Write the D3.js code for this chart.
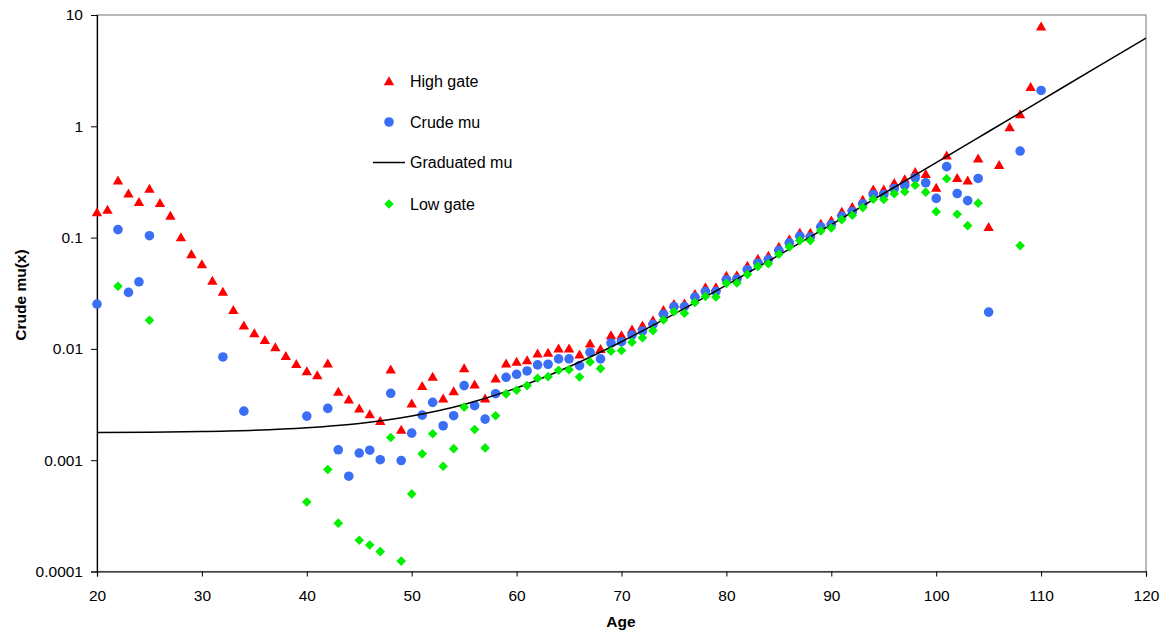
<!DOCTYPE html>
<html>
<head>
<meta charset="utf-8">
<script src="https://cdn.jsdelivr.net/npm/d3@7"></script>
<style>
  html, body { margin: 0; padding: 0; background: #fff; }
  svg { display: block; font-family: "Liberation Sans", Arial, sans-serif; }
</style>
</head>
<body>
<svg id="chart" width="1169" height="638"></svg>
<script>
// Ages observed, 20 to 110
const ages = d3.range(20, 111);

// Upper gate of the crude rate (null where not plotted)
const highGate = [
  0.17, 0.179, 0.328, 0.25, 0.21, 0.276, 0.205, 0.158, 0.101, 0.0713,
  0.058, 0.0412, 0.0328, 0.0225, 0.0163, 0.0139, 0.0121, 0.0104, 0.00865, 0.00733,
  0.00634, 0.00583, 0.00743, 0.00413, 0.00352, 0.00292, 0.0026, 0.00226, 0.00656, 0.00189,
  0.00324, 0.00467, 0.00563, 0.0036, 0.00418, 0.00674, 0.00481, 0.0036, 0.00545, 0.00743,
  0.00769, 0.00796, 0.00914, 0.00927, 0.0101, 0.0101, 0.00896, 0.0112, 0.0100, 0.0133,
  0.0133, 0.0150, 0.0163, 0.0182, 0.0225, 0.0254, 0.0257, 0.0313, 0.0360, 0.0360,
  0.0455, 0.0462, 0.0560, 0.0647, 0.0689, 0.0830, 0.0969, 0.111, 0.111, 0.134,
  0.143, 0.171, 0.189, 0.220, 0.271, 0.271, 0.311, 0.336, 0.391, 0.375,
  0.282, 0.548, 0.345, 0.328, 0.515, 0.125, 0.452, 0.986, 1.29, 2.26,
  7.91
];

// Crude central death rate mu(x)
const crudeMu = [
  0.0253, null, 0.118, 0.0322, 0.0401, 0.104, null, null, null, null,
  null, null, 0.00847, null, 0.00276, null, null, null, null, null,
  0.00249, null, 0.00292, 0.00124, 0.000718, 0.00116, 0.00123, 0.00101, 0.00399, 0.000993,
  0.00175, 0.00254, 0.00331, 0.00204, 0.00251, 0.00468, 0.00309, 0.00234, 0.00396, 0.00556,
  0.00591, 0.00634, 0.00718, 0.00728, 0.00813, 0.00813, 0.00708, 0.00933, 0.00813, 0.0113,
  0.0116, 0.0133, 0.0145, 0.0166, 0.0205, 0.0240, 0.0240, 0.0292, 0.0328, 0.0328,
  0.0418, 0.0425, 0.0515, 0.0592, 0.0634, 0.0769, 0.0896, 0.103, 0.101, 0.125,
  0.131, 0.156, 0.171, 0.201, 0.244, 0.244, 0.276, 0.294, 0.345, 0.311,
  0.225, 0.434, 0.249, 0.215, 0.340, 0.0214, null, null, 0.599, null,
  2.10
];

// Lower gate of the crude rate
const lowGate = [
  null, null, 0.0365, null, null, 0.0181, null, null, null, null,
  null, null, null, null, null, null, null, null, null, null,
  0.000421, null, 0.000824, 0.000272, null, 0.000191, 0.000173, 0.000151, 0.00160, 0.000124,
  0.000498, 0.00114, 0.00173, 0.000883, 0.00127, 0.00300, 0.00189, 0.00129, 0.00251, 0.00394,
  0.00425, 0.00468, 0.00545, 0.00563, 0.00643, 0.00651, 0.00560, 0.00764, 0.00665, 0.00953,
  0.00966, 0.0115, 0.0126, 0.0146, 0.0182, 0.0216, 0.0209, 0.0261, 0.0296, 0.0293,
  0.0388, 0.0391, 0.0467, 0.0551, 0.0583, 0.0708, 0.0825, 0.0940, 0.0940, 0.115,
  0.122, 0.145, 0.159, 0.186, 0.221, 0.220, 0.248, 0.258, 0.296, 0.256,
  0.171, 0.338, 0.162, 0.128, 0.204, null, null, null, 0.0847, null,
  null
];

// Graduated rate, every five years of age
const gradAges = [20, 25, 30, 35, 40, 45, 50, 55, 60, 65, 70, 75, 80, 85, 90, 95, 100, 105, 110, 115, 120];
const gradMu = [0.00177, 0.00178, 0.00181, 0.00186, 0.00196, 0.00214, 0.00250, 0.00317, 0.00446, 0.00691,
  0.0116, 0.0205, 0.0374, 0.0697, 0.131, 0.249, 0.472, 0.898, 1.71, 3.26, 6.2];

// Axis ticks
const xTicks = [20, 30, 40, 50, 60, 70, 80, 90, 100, 110, 120];
const yTicks = [0.0001, 0.001, 0.01, 0.1, 1, 10];
const yTickLabels = ["0.0001", "0.001", "0.01", "0.1", "1", "10"];

const seriesNames = ["High gate", "Crude mu", "Graduated mu", "Low gate"];

const svg = d3.select("#chart");
const plot = { left: 97, right: 1146, top: 15, bottom: 571.5 };

const x = d3.scaleLinear().domain([20, 120]).range([plot.left, plot.right]);
const y = d3.scaleLog().domain([0.0001, 10]).range([plot.bottom, plot.top]);

// plot-area frame
svg.append("rect")
  .attr("x", plot.left).attr("y", plot.top)
  .attr("width", plot.right - plot.left).attr("height", plot.bottom - plot.top)
  .attr("fill", "none").attr("stroke", "#8c8c8c").attr("stroke-width", 1.2);

// x axis
const xAxis = svg.append("g")
  .attr("transform", `translate(0,${plot.bottom})`)
  .call(d3.axisBottom(x).tickValues(xTicks).tickSize(5).tickPadding(13).tickFormat(d3.format("d")));
xAxis.select(".domain").attr("stroke", "#000").attr("stroke-width", 1.2);
xAxis.selectAll(".tick line").attr("stroke", "#000");
xAxis.selectAll("text").attr("font-size", "15.5px").attr("fill", "#000").attr("font-family", null);

// y axis
const yAxis = svg.append("g")
  .attr("transform", `translate(${plot.left},0)`)
  .call(d3.axisLeft(y).tickValues(yTicks).tickSize(6).tickPadding(8)
    .tickFormat((d, i) => yTickLabels[i]));
yAxis.select(".domain").attr("stroke", "#000").attr("stroke-width", 1.2);
yAxis.selectAll(".tick line").attr("stroke", "#000");
yAxis.selectAll("text").attr("font-size", "15.5px").attr("fill", "#000").attr("font-family", null);

// axis titles
svg.append("text")
  .attr("x", 621).attr("y", 627)
  .attr("text-anchor", "middle")
  .attr("font-size", "15.5px").attr("font-weight", "bold")
  .text("Age");
svg.append("text")
  .attr("transform", "translate(26,295) rotate(-90)")
  .attr("text-anchor", "middle")
  .attr("font-size", "15.5px").attr("font-weight", "bold")
  .text("Crude mu(x)");

// marker shapes
const triPath = "M0,-4.8L5.2,4.2L-5.2,4.2Z";
const diaPath = "M0,-4.8L4.8,0L0,4.8L-4.8,0Z";
const colors = { high: "#ff0000", crude: "#3a6ff5", grad: "#000000", low: "#00f000" };

const pts = vals => ages.map((a, i) => ({ age: a, v: vals[i] })).filter(d => d.v != null);

const g = svg.append("g");

// High gate
g.append("g").selectAll("path").data(pts(highGate)).join("path")
  .attr("d", triPath)
  .attr("transform", d => `translate(${x(d.age)},${y(d.v)})`)
  .attr("fill", colors.high);

// Crude mu
g.append("g").selectAll("circle").data(pts(crudeMu)).join("circle")
  .attr("cx", d => x(d.age)).attr("cy", d => y(d.v)).attr("r", 4.8)
  .attr("fill", colors.crude);

// Graduated mu
const line = d3.line()
  .x(d => x(d.age)).y(d => y(d.v))
  .curve(d3.curveMonotoneX);
g.append("path")
  .datum(gradAges.map((a, i) => ({ age: a, v: gradMu[i] })))
  .attr("d", line)
  .attr("fill", "none").attr("stroke", colors.grad).attr("stroke-width", 1.5);

// Low gate
g.append("g").selectAll("path").data(pts(lowGate)).join("path")
  .attr("d", diaPath)
  .attr("transform", d => `translate(${x(d.age)},${y(d.v)})`)
  .attr("fill", colors.low);

// legend
const legend = svg.append("g").attr("transform", "translate(389,0)");
const legendRows = [81, 122, 162.5, 204];
legendRows.forEach((ly, i) => {
  const row = legend.append("g").attr("transform", `translate(0,${ly})`);
  if (i === 0) row.append("path").attr("d", triPath).attr("fill", colors.high);
  if (i === 1) row.append("circle").attr("r", 4.8).attr("fill", colors.crude);
  if (i === 2) row.append("line").attr("x1", -16).attr("x2", 16).attr("stroke", colors.grad).attr("stroke-width", 1.5);
  if (i === 3) row.append("path").attr("d", diaPath).attr("fill", colors.low);
  row.append("text")
    .attr("x", 21).attr("y", 5.8)
    .attr("font-size", "16px")
    .text(seriesNames[i]);
});
</script>
</body>
</html>
